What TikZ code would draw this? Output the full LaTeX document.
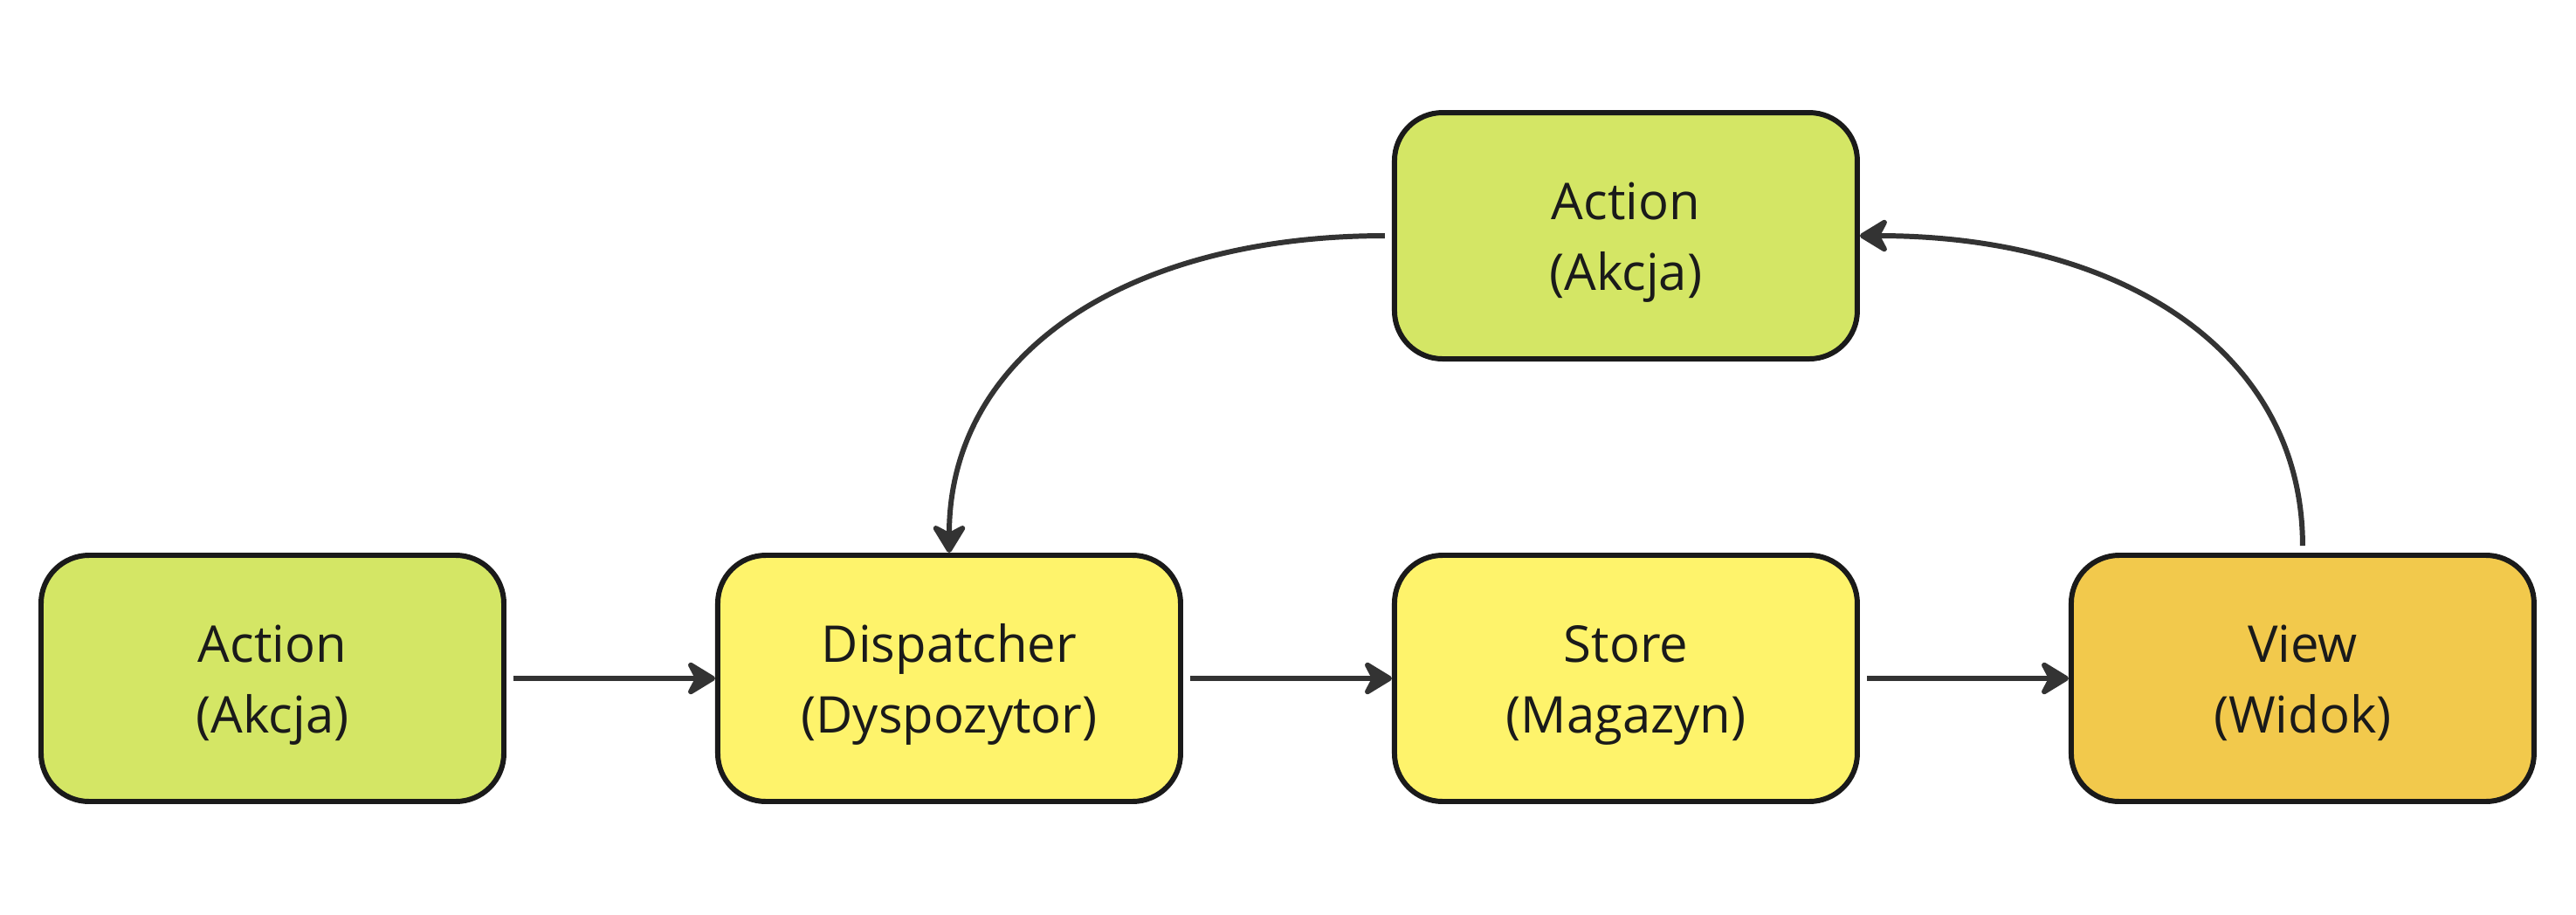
\documentclass[tikz,border=0pt]{standalone}
\usepackage{fontspec}
\setmainfont{Open Sans}
\usetikzlibrary{positioning}
\usetikzlibrary{arrows.meta}
\definecolor{actgreen}{HTML}{D4E665}
\definecolor{dispyellow}{HTML}{FEF36B}
\definecolor{vieworange}{HTML}{F2C94C}
\definecolor{boxline}{HTML}{1A1A1A}
\definecolor{arrowline}{HTML}{333333}

\begin{document}
\begin{tikzpicture}[
  node distance=2.19cm and 2.39cm,
  mynode/.style={draw=boxline,line width=1.7pt,rounded corners=0.55cm,minimum width=5.3cm,minimum height=2.82cm,align=center,text=boxline,font=\fontsize{16.5}{23}\selectfont,text height=39.7pt,text depth=4pt},
  flow/.style={draw=arrowline,line width=1.7pt,-{Stealth[length=3.8mm,width=4.6mm,inset=1.2mm,round]},shorten <=0.08cm}
]
  \useasboundingbox (0,0) rectangle (29.5,-10.48);

  \node[mynode, fill=actgreen] (a) at (3.12,-7.77) {Action\\(Akcja)};
  \node[mynode, fill=dispyellow, right=of a] (d) {Dispatcher\\(Dyspozytor)};
  \node[mynode, fill=dispyellow, right=of d] (s) {Store\\(Magazyn)};
  \node[mynode, fill=vieworange, right=of s] (v) {View\\(Widok)};
  \node[mynode, fill=actgreen, above=of s] (ta) {Action\\(Akcja)};

  \path (a) edge[flow] (d)
        (d) edge[flow] (s)
        (s) edge[flow] (v)
  ;
  \draw[flow] (ta.west) .. controls +(-3.0,0) and +(0,2.3) .. (d.north);
  \draw[flow] (v.north) .. controls +(0,2.3) and +(3.0,0) .. (ta.east);
\end{tikzpicture}
\end{document}
